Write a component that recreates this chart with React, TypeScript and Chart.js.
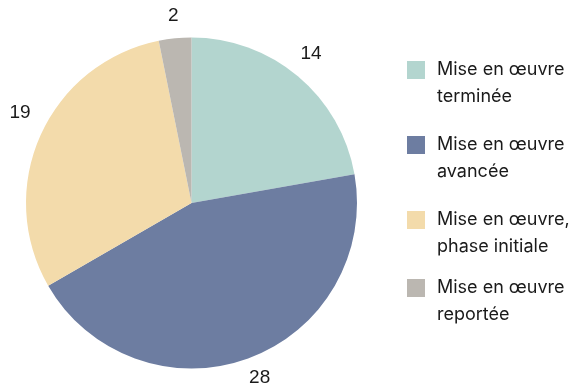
import React, { useEffect, useRef } from "react";
import { Chart, registerables } from "chart.js";

Chart.register(...registerables);

const categories: string[][] = [
  ["Mise en œuvre", "terminée"],
  ["Mise en œuvre", "avancée"],
  ["Mise en œuvre,", "phase initiale"],
  ["Mise en œuvre", "reportée"],
];
const values: number[] = [14, 28, 19, 2];
const colors: string[] = ["#b3d5cf", "#6d7da1", "#f3dbab", "#bbb7b1"];

// style only: label nudges and legend entry tops
const labelNudge: [number, number][] = [
  [-1, -6],
  [4, -1.5],
  [-0.5, -13],
  [0.5, -0.5],
];
const legendTops: number[] = [61, 136, 211, 279];

const FONT = "'Liberation Sans', Arial, sans-serif";
const LEGEND_FONT = "Inter, 'Noto Sans', sans-serif";

const labelPlugin = {
  id: "outsideLabels",
  afterDatasetsDraw(chart: any) {
    const ctx = chart.ctx;
    const meta = chart.getDatasetMeta(0);
    ctx.save();
    ctx.font = `19px ${FONT}`;
    ctx.fillStyle = "#1a1a1a";
    ctx.textAlign = "center";
    ctx.textBaseline = "middle";
    meta.data.forEach((arc: any, i: number) => {
      const p = arc.getProps(["x", "y", "startAngle", "endAngle", "outerRadius"], true);
      const mid = (p.startAngle + p.endAngle) / 2;
      const r = p.outerRadius + 22;
      const x = p.x + Math.cos(mid) * r + labelNudge[i][0];
      const y = p.y + Math.sin(mid) * r + labelNudge[i][1];
      ctx.fillText(String(values[i]), x, y);
    });
    ctx.restore();
  },
};

const legendPlugin = {
  id: "sideLegend",
  afterDraw(chart: any) {
    const ctx = chart.ctx;
    ctx.save();
    ctx.font = `18px ${LEGEND_FONT}`;
    ctx.textAlign = "left";
    ctx.textBaseline = "middle";
    categories.forEach((lines, i) => {
      const top = legendTops[i];
      ctx.fillStyle = colors[i];
      ctx.fillRect(407, top, 18, 18);
      ctx.fillStyle = "#1a1a1a";
      lines.forEach((t, j) => {
        ctx.fillText(t, 437, top + 9 + j * 27);
      });
    });
    ctx.restore();
  },
};

export default function App() {
  const ref = useRef<HTMLCanvasElement | null>(null);
  useEffect(() => {
    if (!ref.current) return;
    const chart = new Chart(ref.current, {
      type: "pie",
      data: {
        labels: categories.map((c) => c.join(" ")),
        datasets: [
          {
            data: values,
            backgroundColor: colors,
            borderWidth: 0,
          },
        ],
      },
      options: {
        responsive: false,
        animation: false,
        layout: { padding: { top: 37.5, bottom: 21.5, left: 26, right: 217 } },
        plugins: {
          legend: { display: false },
          tooltip: { enabled: false },
        },
      },
      plugins: [labelPlugin, legendPlugin],
    });
    return () => chart.destroy();
  }, []);
  return (
    <div style={{ position: "fixed", left: 0, top: 0, width: 574, height: 390, background: "#fff" }}>
      <canvas ref={ref} width={574} height={390} />
    </div>
  );
}
